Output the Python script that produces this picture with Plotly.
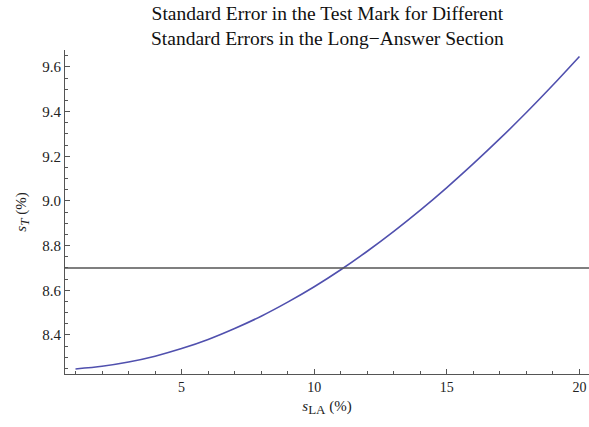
import plotly.graph_objects as go

# Data
s_la = [1, 2, 3, 4, 5, 6, 7, 8, 9, 10, 11, 12, 13, 14, 15, 16, 17, 18, 19, 20]
s_t = [8.248, 8.260, 8.279, 8.305, 8.339, 8.380, 8.429, 8.484, 8.547, 8.616,
       8.692, 8.775, 8.864, 8.959, 9.060, 9.167, 9.279, 9.396, 9.519, 9.647]
threshold = 8.7
x_ticks = [5, 10, 15, 20]
y_ticks = [8.4, 8.6, 8.8, 9.0, 9.2, 9.4, 9.6]
title_text = ("Standard Error in the Test Mark for Different<br>"
              "Standard Errors in the Long\u2212Answer Section")

serif = "Liberation Serif, Times New Roman, serif"
axis_col = "#555555"

fig = go.Figure()
fig.add_trace(go.Scatter(
    x=s_la, y=s_t, mode="lines",
    line=dict(color="#5050ae", width=1.6, shape="spline", smoothing=0.8),
    hoverinfo="skip", showlegend=False,
))
fig.add_hline(y=threshold, line=dict(color="#555555", width=1.3))

fig.add_annotation(
    text=title_text, xref="paper", yref="paper", x=0.5, y=1,
    xanchor="center", yanchor="bottom", yshift=0, showarrow=False,
    borderpad=0, font=dict(family=serif, size=19.5, color="#111111"),
)

fig.update_layout(
    width=589, height=427,
    margin=dict(l=65, r=0, t=50, b=53),
    paper_bgcolor="white", plot_bgcolor="white",
    font=dict(family=serif, size=14, color="#222222"),
    showlegend=False,
)
fig.update_xaxes(
    range=[0.604, 20.36], automargin=False,
    tickvals=x_ticks, ticks="inside", ticklen=5, tickwidth=1, tickcolor=axis_col,
    minor=dict(dtick=1, tick0=0, ticks="inside", ticklen=3, tickwidth=1, tickcolor=axis_col),
    showline=True, linecolor=axis_col, linewidth=1,
    showgrid=False, zeroline=False,
    tickfont=dict(family=serif, size=14, color="#222222"),
    title=dict(text="<i>s</i><sub><span style='font-size:13px'>LA</span></sub> (%)",
               font=dict(family=serif, size=15, color="#222222"), standoff=6),
)
fig.update_yaxes(
    range=[8.2253, 9.676], automargin=False,
    tickvals=y_ticks, tickformat=".1f",
    ticks="inside", ticklen=5, tickwidth=1, tickcolor=axis_col,
    minor=dict(dtick=0.05, tick0=0, ticks="inside", ticklen=3, tickwidth=1, tickcolor=axis_col),
    showline=True, linecolor=axis_col, linewidth=1,
    showgrid=False, zeroline=False,
    tickfont=dict(family=serif, size=15, color="#222222"),
    title=dict(text="<i>s<sub><span style='font-size:13px'>T</span></sub></i> (%)",
               font=dict(family=serif, size=15, color="#222222"), standoff=12),
)

fig.write_html(
    "out.html",
    config={"displayModeBar": False},
    post_script="document.body.style.margin='0px';document.body.style.overflow='hidden';",
)
